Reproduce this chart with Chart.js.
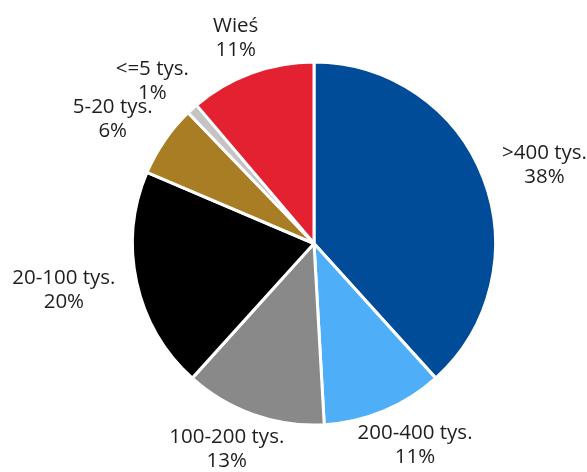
<!DOCTYPE html>
<html>
<head>
<meta charset="utf-8">
<script src="https://cdn.jsdelivr.net/npm/chart.js@4.4.0/dist/chart.umd.min.js"></script>
<style>
    body { margin: 0; background: #fff; }
    #wykres { display: block; }
</style>
</head>
<body>
<canvas id="wykres" width="587" height="472"></canvas>
<script>
// wielkosc miejscowosci - udzial w %
const kategorie = ['>400 tys.', '200-400 tys.', '100-200 tys.', '20-100 tys.', '5-20 tys.', '<=5 tys.', 'Wieś'];
const udzialy = [38.3, 10.8, 12.6, 19.7, 6.4, 1.0, 11.2];
const kolory = ['#004c99', '#4faef8', '#898989', '#000000', '#a87d24', '#c4c4c4', '#e32131'];

// etykiety na zewnatrz kola: nazwa + procent
const etykiety = {
    id: 'etykiety',
    afterDatasetsDraw(chart) {
        const ctx = chart.ctx;
        const meta = chart.getDatasetMeta(0);
        const suma = udzialy.reduce((a, b) => a + b, 0);
        const wysLinii = 24;
        ctx.save();
        ctx.font = '20.5px "Open Sans", sans-serif';
        ctx.fillStyle = '#1e1e1e';
        ctx.textAlign = 'center';
        ctx.textBaseline = 'middle';
        meta.data.forEach((luk, i) => {
            const kat = (luk.startAngle + luk.endAngle) / 2;
            const linie = [kategorie[i], Math.round(udzialy[i] / suma * 100) + '%'];
            const szer = Math.max(...linie.map(t => ctx.measureText(t).width));
            const wys = linie.length * wysLinii;
            // odstep od kola: wiekszy w poziomie, mniejszy w pionie
            const cx = luk.x + Math.cos(kat) * (luk.outerRadius + 23 + szer / 2);
            const cy = luk.y + Math.sin(kat) * (luk.outerRadius + 13 + wys / 2);
            linie.forEach((t, j) => {
                ctx.fillText(t, cx, cy - wys / 2 + wysLinii * (j + 0.5));
            });
        });
        ctx.restore();
    }
};

const wykres = new Chart(document.getElementById('wykres'), {
    type: 'pie',
    data: {
        labels: kategorie,
        datasets: [{
            data: udzialy,
            backgroundColor: kolory,
            borderColor: '#ffffff',
            borderWidth: 3
        }]
    },
    options: {
        responsive: false,
        animation: false,
        layout: { padding: { left: 131, right: 90, top: 60, bottom: 45 } },
        plugins: {
            legend: { display: false },
            tooltip: { enabled: false }
        }
    },
    plugins: [etykiety]
});
</script>
</body>
</html>
